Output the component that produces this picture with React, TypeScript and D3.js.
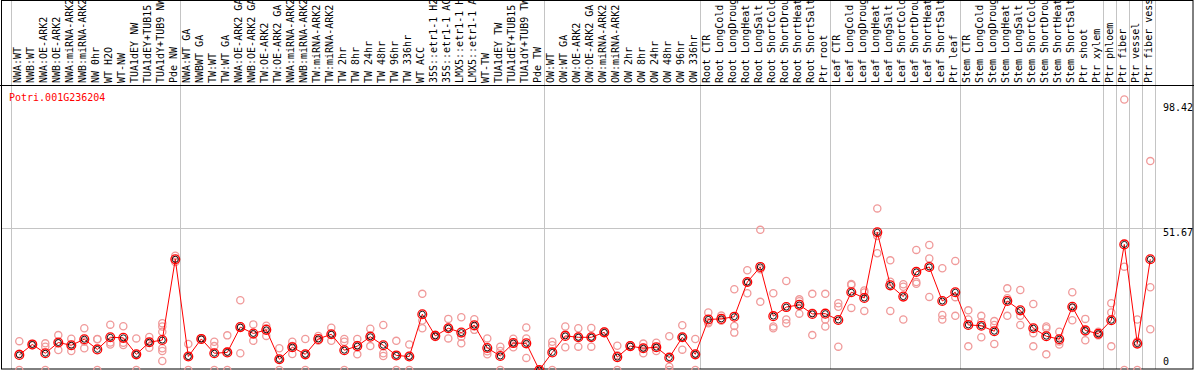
import React from "react";
import * as d3 from "d3";

const geneName = "Potri.001G236204";

const categories: string[] = [
  "NWA:WT", "NWB:WT", "NWA:OE-ARK2", "NWB:OE-ARK2", "NWA:miRNA-ARK2", "NWB:miRNA-ARK2",
  "NW 0hr", "WT H2O", "WT-NW", "TUA1dEY NW", "TUA1dEY+TUB15 NW", "TUA1dY+TUB9 NW", "Pde NW",
  "NWA:WT GA", "NWBWT GA", "TW:WT", "TW:WT GA", "NWA:OE-ARK2 GA", "NWB:OE-ARK2 GA",
  "TW:OE-ARK2", "TW:OE-ARK2 GA", "NWA:miRNA-ARK2 GA", "NWB:miRNA-ARK2 GA", "TW:miRNA-ARK2",
  "TW:miRNA-ARK2 GA", "TW 2hr", "TW 8hr", "TW 24hr", "TW 48hr", "TW 96hr", "TW 336hr",
  "WT ACC", "35S::etr1-1 H2O", "35S::etr1-1 ACC", "LMX5::etr1-1 H2O", "LMX5::etr1-1 ACC",
  "WT-TW", "TUA1dEY TW", "TUA1dEY+TUB15 TW", "TUA1dY+TUB9 TW", "Pde TW",
  "OW:WT", "OW:WT GA", "OW:OE-ARK2", "OW:OE-ARK2 GA", "OW:miRNA-ARK2", "OW:miRNA-ARK2 GA",
  "OW 2hr", "OW 8hr", "OW 24hr", "OW 48hr", "OW 96hr", "OW 336hr",
  "Root CTR", "Root LongCold", "Root LongDrought", "Root LongHeat", "Root LongSalt",
  "Root ShortCold", "Root ShortDrought", "Root ShortHeat", "Root ShortSalt", "Ptr root",
  "Leaf CTR", "Leaf LongCold", "Leaf LongDrought", "Leaf LongHeat", "Leaf LongSalt",
  "Leaf ShortCold", "Leaf ShortDrought", "Leaf ShortHeat", "Leaf ShortSalt", "Ptr leaf",
  "Stem CTR", "Stem LongCold", "Stem LongDrought", "Stem LongHeat", "Stem LongSalt",
  "Stem ShortCold", "Stem ShortDrought", "Stem ShortHeat", "Stem ShortSalt", "Ptr shoot",
  "Ptr xylem", "Ptr phloem", "Ptr fiber", "Ptr vessel", "Ptr fiber vessel",
];

const groupSizes: number[] = [13, 28, 12, 10, 10, 11, 1, 1, 1, 1];

const means: number[] = [
  5.5, 9.3, 6.1, 10.0, 9.0, 11.2, 7.5, 11.9, 11.7, 5.7, 10.1, 10.9, 40.3,
  4.9, 11.3, 6.1, 6.4, 15.6, 13.3, 14.6, 3.9, 8.3, 5.7, 11.3, 13.0, 7.2, 8.7, 12.1, 9.0, 5.3, 4.9,
  20.3, 12.4, 15.2, 13.6, 16.3, 8.0, 5.1, 9.8, 9.7, 0,
  6.4, 12.4, 11.9, 11.9, 13.7, 4.7, 8.7, 7.9, 8.3, 4.5, 11.9, 5.7,
  18.4, 18.6, 19.4, 32.0, 37.5, 19.6, 22.9, 23.7, 20.4, 20.5,
  18.2, 28.3, 26.2, 50.1, 30.8, 26.7, 35.7, 37.5, 25.1, 28.3,
  16.4, 16.1, 14.1, 25.1, 21.7, 15.2, 12.3, 11.2, 23.0, 14.4,
  13.2, 18.1, 45.7, 9.6, 40.3,
];

const replicates: number[][] = [
  [10.5, 0, 5.9], [9.0, 9.5, 9.4], [9.7, 8.5, 0], [12.7, 7.3, 9.8], [11.4, 6.9, 8.7],
  [15.2, 7.9, 10.4], [11.3, 0, 11.2], [16.5, 10.0, 9.3], [15.9, 9.1, 9.9], [11.5, 0, 5.7],
  [12.0, 8.1, 10.2], [17.0, 15.8, 13.9, 7.9, 6.9, 3.3], [41.6, 40.0, 39.3],
  [9.5, 0, 5.0], [11.0, 11.5, 11.4], [10.3, 8.7, 0], [12.6, 0, 6.6], [25.4, 6.1, 15.5],
  [16.6, 10.6, 12.8], [16.1, 12.4, 15.2], [7.9, 0, 3.8], [10.3, 5.8, 8.7], [11.3, 0, 5.8],
  [12.4, 10.7, 10.8], [15.4, 10.6, 13.0], [11.3, 10.3, 0], [11.3, 5.7, 9.1], [15.0, 8.7, 12.6],
  [16.4, 6.1, 5.1], [10.6, 0, 5.3], [9.3, 0, 5.2], [27.7, 15.2, 18.0], [12.8, 12.0, 12.4],
  [18.6, 11.5, 15.4], [19.2, 12.1, 9.7], [18.5, 14.6, 15.8], [11.5, 5.7, 6.8], [8.5, 6.9, 0],
  [11.4, 8.3, 9.8], [15.5, 11.5, 4.4], [0, 0, 0],
  [10.3, 0, 9.0], [15.8, 8.3, 13.0], [15.2, 8.5, 12.0], [15.3, 8.5, 11.9], [14.0, 13.5, 13.6],
  [8.8, 0, 5.4], [8.9, 8.5, 8.7], [9.6, 6.1, 8.0], [9.9, 6.9, 8.1], [12.3, 0, 1.2],
  [16.3, 7.4, 12.0], [11.3, 0, 5.8],
  [20.9, 17.0, 17.4], [19.8, 18.0, 18.0], [29.4, 16.0, 13.6], [36.3, 27.9, 31.9], [51.0, 24.8, 36.7],
  [27.9, 15.8, 15.2], [32.4, 18.4, 17.0], [25.7, 25.0, 20.5], [27.7, 12.7, 20.8], [27.7, 18.4, 15.8],
  [24.3, 23.0, 8.5], [31.3, 22.6, 30.9], [28.9, 21.5, 28.2], [58.8, 48.8, 42.5], [39.9, 32.1, 21.5],
  [31.2, 30.3, 18.4], [43.7, 32.0, 31.4], [45.5, 40.6, 26.6], [37.0, 20.0, 18.4], [39.7, 26.5, 19.7],
  [21.7, 18.4, 8.6], [19.7, 17.4, 11.9], [17.8, 16.4, 9.5], [29.7, 26.1, 19.7], [29.1, 19.7, 16.4],
  [24.0, 13.4, 8.6], [15.8, 15.2, 5.7], [13.9, 9.3, 10.4], [28.3, 18.1, 22.6], [18.6, 10.8, 13.9],
  [13.9, 12.6, 13.2], [24.3, 20.9, 8.6], [98.42, 37.6, 0], [18.4, 0, 10.4], [76.0, 30.1, 14.8],
];

const yTicks: number[] = [98.42, 51.67, 0];
const yTickLabels: string[] = ["98.42", "51.67", "0"];
const gridValues: number[] = [51.67];

const W = 1194;
const H = 370;
const FONT = "'DejaVu Sans Mono', monospace";

export default function App() {
  const n = categories.length;
  const x = d3.scaleLinear().domain([0, n - 1]).range([19.3, 19.3 + 13 * (n - 1)]);
  const y = d3.scaleLinear().domain([0, 98.42]).range([370, 99.5]);

  const starts: number[] = [];
  let acc = 0;
  starts.push(0);
  groupSizes.forEach((s) => {
    acc += s;
    starts.push(acc);
  });
  const sepX = (i: number) => Math.round(x(i) - 8.6) + 0.5;

  const line = d3
    .line<number>()
    .x((_, i) => x(i))
    .y((d) => y(d));

  const tickTextY = (v: number, i: number) => {
    if (i === 0) return y(v) + 11.5;
    if (i === 1) return y(v) + 8;
    return y(v) - 5;
  };

  return (
    <svg
      width={W}
      height={H}
      style={{ position: "absolute", left: 0, top: 0, background: "#fff" }}
      fontFamily={FONT}
      fontSize={10}
    >
      <rect x={0} y={0} width={W} height={H} fill="#fff" />
      {/* group separators */}
      {starts.map((s, k) => (
        <line key={"sep" + k} x1={sepX(s)} x2={sepX(s)} y1={0} y2={369} stroke="#c4c4c4" strokeWidth={1} />
      ))}
      {/* horizontal gridline */}
      {gridValues.map((v, k) => (
        <line key={"g" + k} x1={1} x2={1193} y1={Math.round(y(v)) + 0.5} y2={Math.round(y(v)) + 0.5} stroke="#c4c4c4" strokeWidth={1} />
      ))}
      {/* frame */}
      <line x1={0} x2={W} y1={85.5} y2={85.5} stroke="#000" strokeWidth={1} />
      <rect x={1.5} y={0.5} width={1191.5} height={368.5} fill="none" stroke="#000" strokeWidth={1} />

      {/* category labels */}
      {categories.map((c, i) => (
        <text
          key={"l" + i}
          transform={`translate(${x(i) + 1.5},83) rotate(-90)`}
          fill="#000"
        >
          {c}
        </text>
      ))}

      {/* gene name */}
      <text x={9} y={100.5} fill="#ff0000">{geneName}</text>

      {/* y tick labels */}
      {yTicks.map((v, i) => (
        <text key={"t" + i} x={1163} y={tickTextY(v, i)} fill="#000">
          {yTickLabels[i]}
        </text>
      ))}

      {/* replicates */}
      {replicates.map((reps, i) =>
        reps.map((v, j) => (
          <circle
            key={`r${i}-${j}`}
            cx={x(i)}
            cy={y(v)}
            r={3.6}
            fill="none"
            stroke="#f09a9a"
            strokeWidth={1.3}
          />
        ))
      )}

      {/* mean line */}
      <path d={line(means) || ""} fill="none" stroke="#ff0000" strokeWidth={1} />

      {/* mean markers */}
      {means.map((v, i) => (
        <g key={"m" + i}>
          <circle cx={x(i)} cy={y(v)} r={4.4} fill="none" stroke="#ff0000" strokeWidth={1.3} />
          <circle cx={x(i)} cy={y(v)} r={3} fill="none" stroke="#000" strokeWidth={0.9} />
        </g>
      ))}
    </svg>
  );
}
